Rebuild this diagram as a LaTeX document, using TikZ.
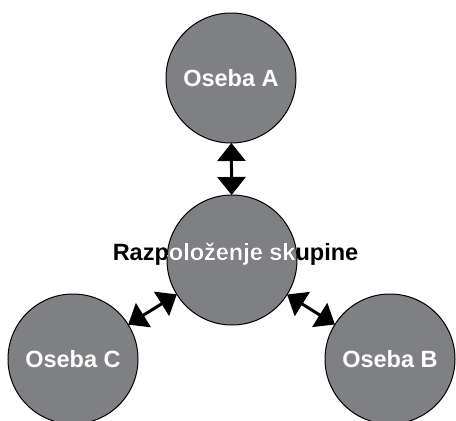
\documentclass[tikz,border=0pt]{standalone}
\usepackage{fontspec}
\setmainfont{Liberation Sans}
\usepackage{xcolor}
\usepackage{tikz}
\usetikzlibrary{arrows.meta, calc}
\definecolor{discgray}{RGB}{127,128,131}
\tikzset{
  person/.style={circle, draw=black, line width=1pt, fill=discgray, minimum size=130pt, inner sep=0pt, outer sep=0pt, text=white, font=\bfseries\fontsize{23.5}{28}\selectfont},
  mood/.style={inner sep=0pt, font=\bfseries\fontsize{23.5}{28}\selectfont},
  link/.style={line width=3pt, {Triangle[width=28pt,length=18pt]}-{Triangle[width=28pt,length=18pt]}}
}
\begin{document}
\begin{tikzpicture}[x=1pt, y=-1pt]
\useasboundingbox (0,0) rectangle (456,421);
% Circles
\node[person] (pa) at (231,78) {Oseba A};
\node[person] (grp) at (232,260) {};
\node[person] (pc) at (73,359) {Oseba C};
\node[person] (pb) at (390,359) {Oseba B};

% Links to the group
\draw[link] (pa) -- (grp);
\draw[link] (pc) -- (grp);
\draw[link] (pb) -- (grp);

% Label: black outside, white inside the circle
\node[mood, anchor=base, text=black] (moodblk) at (235.5,260) {Razpoloženje skupine};
\begin{scope}
  \clip (grp.center) circle[radius=65];
  \node[mood, anchor=base, text=white] (moodwht) at (moodblk.base) {Razpoloženje skupine};
\end{scope}
\end{tikzpicture}
\end{document}
